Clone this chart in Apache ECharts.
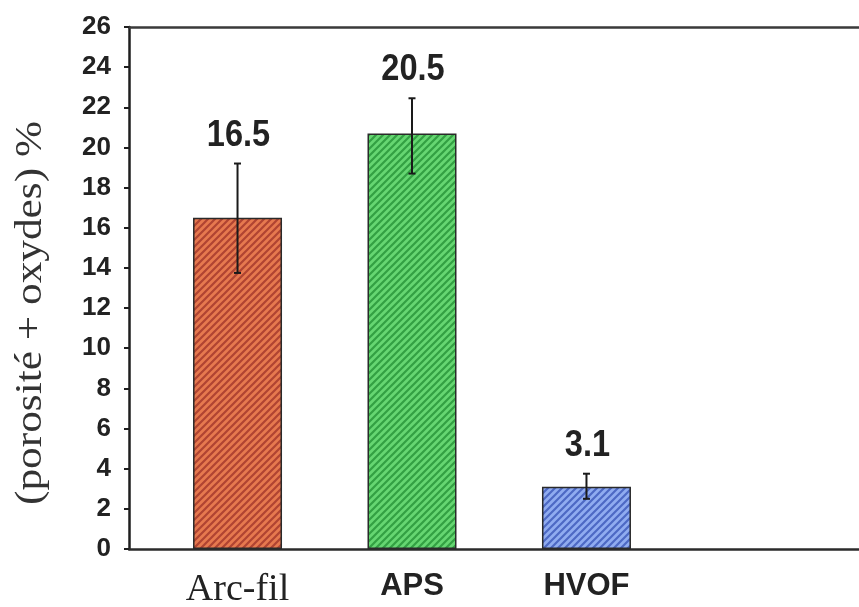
<!DOCTYPE html>
<html>
<head>
<meta charset="utf-8">
<script src="https://cdn.jsdelivr.net/npm/echarts@6/dist/echarts.min.js"></script>
<style>html,body{margin:0;padding:0;background:#fff;}#c{width:859px;height:607px;}</style>
</head>
<body>
<div id="c"></div>
<script>
// ---- data ----
const categories = ['Arc-fil', 'APS', 'HVOF'];
const barValues = [16.5, 20.7, 3.1];
const valueLabels = ['16.5', '20.5', '3.1'];
const errLow = [13.75, 18.7, 2.5];
const errHigh = [19.2, 22.45, 3.75];
const yMin = 0, yMax = 26, yStep = 2;
const yTitle = '(porosité + oxydes) %';

// ---- styles ----
const fills = [['#e6794f', '#b04432'], ['#66d672', '#33a043'], ['#90acf0', '#4d69c4']];

function hatch(bg, fg) {
  const s = 7;
  const c = document.createElement('canvas');
  c.width = s; c.height = s;
  const g = c.getContext('2d');
  g.fillStyle = bg; g.fillRect(0, 0, s, s);
  g.strokeStyle = fg; g.lineWidth = 2.2;
  g.beginPath();
  g.moveTo(-1, s + 1); g.lineTo(s + 1, -1);
  g.moveTo(-2, 2); g.lineTo(2, -2);
  g.moveTo(s - 2, s + 2); g.lineTo(s + 2, s - 2);
  g.stroke();
  return { image: c, repeat: 'repeat' };
}

const chart = echarts.init(document.getElementById('c'), null, { renderer: 'canvas' });
const sans = "'Liberation Sans', Arial, sans-serif";
const serif = "'Liberation Serif', 'Times New Roman', serif";

const option = {
  animation: false,
  backgroundColor: '#fff',
  grid: { left: 129, right: 0, top: 27, bottom: 58, containLabel: false, outerBoundsMode: 'none' },
  xAxis: [{
    type: 'value', min: -0.622, max: 3.562,
    axisLine: { show: true, onZero: false, lineStyle: { color: '#2b2b2b', width: 2.5 } },
    axisTick: { show: false },
    splitLine: { show: false },
    axisLabel: {
      customValues: [0, 1, 2],
      margin: 22,
      formatter: function (v) {
        const i = Math.round(v);
        return i === 0 ? '{s|' + categories[i] + '}' : '{n|' + categories[i] + '}';
      },
      rich: {
        s: { fontFamily: serif, fontSize: 38, color: '#222' },
        n: { fontFamily: sans, fontWeight: 'bold', fontSize: 31, color: '#222' }
      }
    }
  }, {
    type: 'value', min: -0.622, max: 3.562, position: 'top',
    axisLine: { show: true, onZero: false, lineStyle: { color: '#3a3a3a', width: 2.5 } },
    axisTick: { show: false }, axisLabel: { show: false }, splitLine: { show: false }
  }],
  yAxis: {
    type: 'value', min: yMin, max: yMax, interval: yStep,
    axisLine: { show: true, onZero: false, lineStyle: { color: '#1e1e1e', width: 2.5 } },
    axisTick: { show: true, inside: false, length: 5, lineStyle: { color: '#1e1e1e', width: 2 } },
    splitLine: { show: false },
    axisLabel: { margin: 18, fontFamily: sans, fontWeight: 'bold', fontSize: 26, color: '#222' }
  },
  graphic: [{
    type: 'text', x: 31, y: 313, rotation: Math.PI / 2, scaleX: 1.17,
    style: { text: yTitle, font: '37px ' + serif, fill: '#333', textAlign: 'center', textVerticalAlign: 'middle' }
  }],
  series: [{
    type: 'bar', barWidth: 89,
    data: barValues.map((v, i) => ({
      value: [i, v],
      itemStyle: { color: hatch(fills[i][0], fills[i][1]), borderColor: '#2a2a2a', borderWidth: 1.5 }
    })),
    silent: true
  }, {
    type: 'custom',
    encode: { x: 0, y: [1, 2] },
    data: categories.map((c, i) => [i, errLow[i], errHigh[i]]),
    renderItem: function (params, api) {
      const x = api.value(0);
      const lo = api.coord([x, api.value(1)]);
      const hi = api.coord([x, api.value(2)]);
      const cap = 3.5;
      const st = { stroke: '#1a1a1a', lineWidth: 2 };
      return {
        type: 'group',
        children: [
          { type: 'line', shape: { x1: hi[0], y1: hi[1], x2: lo[0], y2: lo[1] }, style: st },
          { type: 'line', shape: { x1: hi[0] - cap, y1: hi[1], x2: hi[0] + cap, y2: hi[1] }, style: st },
          { type: 'line', shape: { x1: lo[0] - cap, y1: lo[1], x2: lo[0] + cap, y2: lo[1] }, style: st },
          { type: 'text', x: hi[0] + 1, y: hi[1] - 28, scaleX: 0.88,
            style: { text: valueLabels[params.dataIndex], font: 'bold 37px ' + sans, fill: '#222', textAlign: 'center', textVerticalAlign: 'middle' } }
        ]
      };
    },
    z: 5
  }]
};
chart.setOption(option);
</script>
</body>
</html>
